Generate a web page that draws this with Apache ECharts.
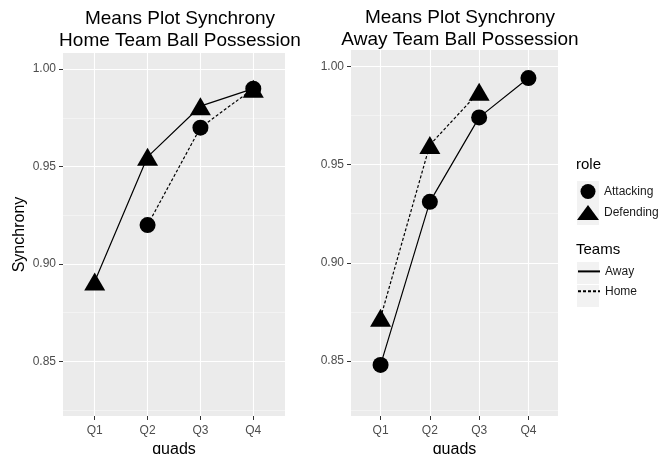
<!DOCTYPE html>
<html>
<head>
<meta charset="utf-8">
<script src="https://cdn.jsdelivr.net/npm/echarts@6/dist/echarts.min.js"></script>
<style>
    html, body {margin: 0; padding: 0; background: #fff;}
    #chart {width: 667px; height: 454px;}
</style>
</head>
<body>
<div id="chart"></div>
<script>
// quads on the x axis
const quads = ['Q1', 'Q2', 'Q3', 'Q4'];
const xPos = [1, 2, 3, 4];
const yTicks = [0.85, 0.90, 0.95, 1.00];
const yMinor = [0.825, 0.875, 0.925, 0.975];

// Home team ball possession
const homeDefending = [0.891, 0.955, 0.981, 0.990];   // Away line
const homeAttacking = [null, 0.920, 0.970, 0.990];    // Home line

// Away team ball possession
const awayAttacking = [0.848, 0.931, 0.974, 0.994];   // Away line
const awayDefending = [0.872, 0.960, 0.987, null];    // Home line

const toPoints = (vals) => vals
    .map((v, i) => [xPos[i], v])
    .filter(p => p[1] !== null);

const chart = echarts.init(document.getElementById('chart'));

const gridStyle = {show: true, backgroundColor: '#EBEBEB', borderWidth: 0, containLabel: false, outerBoundsMode: 'none'};
const font = 'Liberation Sans';

const xAxis = (gridIndex, name) => ({
    type: 'value',
    gridIndex: gridIndex,
    min: 0.4,
    max: 4.6,
    name: name,
    nameLocation: 'middle',
    nameGap: 25,
    nameTextStyle: {fontSize: 16, color: '#000', fontFamily: font},
    axisLine: {show: false},
    axisTick: {show: true, length: 4, customValues: xPos, lineStyle: {color: '#333'}},
    axisLabel: {
        customValues: xPos, margin: 9, fontSize: 12, color: '#4D4D4D', fontFamily: font,
        formatter: v => quads[Math.round(v) - 1]
    },
    splitLine: {show: true, lineStyle: {color: '#fff', width: 1.1}}
});

const yAxis = (gridIndex, name) => ({
    type: 'value',
    gridIndex: gridIndex,
    position: 'left',
    min: 0.822,
    max: 1.0083,
    name: name,
    nameLocation: 'middle',
    nameGap: 35,
    nameRotate: 90,
    nameTextStyle: {fontSize: 16, color: '#000', fontFamily: font},
    axisLine: {show: false},
    axisTick: {show: true, length: 4, customValues: yTicks, lineStyle: {color: '#333'}},
    axisLabel: {
        customValues: yTicks, margin: 7, fontSize: 12, color: '#4D4D4D', fontFamily: font,
        formatter: v => v.toFixed(2)
    },
    splitLine: {show: true, lineStyle: {color: '#fff', width: 1.1}}
});

const yMinorAxis = (gridIndex) => ({
    type: 'value',
    gridIndex: gridIndex,
    position: 'left',
    min: 0.822,
    max: 1.0083,
    axisLine: {show: false},
    axisTick: {show: false, customValues: yMinor},
    axisLabel: {show: false, customValues: yMinor},
    splitLine: {show: true, lineStyle: {color: '#F6F6F6', width: 0.7}}
});

const lineSeries = (name, vals, xi, yi, dashed) => ({
    name: name,
    type: 'line',
    xAxisIndex: xi,
    yAxisIndex: yi,
    data: toPoints(vals),
    symbol: 'none',
    z: 3,
    color: '#000',
    lineStyle: {color: '#000', width: 1.2, type: dashed ? [3, 2] : 'solid'}
});

const pointSeries = (name, vals, xi, yi) => ({
    name: name,
    type: 'scatter',
    xAxisIndex: xi,
    yAxisIndex: yi,
    data: toPoints(vals),
    symbol: name === 'Attacking' ? 'circle' : 'triangle',
    symbolSize: name === 'Attacking' ? 16 : [21, 18],
    z: 4,
    itemStyle: {color: '#000', opacity: 1}
});

const hiddenSymbol = {color: 'transparent', borderColor: 'transparent', opacity: 0};
const titleText = {fontSize: 19, fontWeight: 'normal', color: '#000', lineHeight: 22, fontFamily: font};
const keyBox = {fill: '#F2F2F2'};

const option = {
    animation: false,
    backgroundColor: '#fff',
    textStyle: {fontFamily: font},
    title: [
        {text: 'Means Plot Synchrony\nHome Team Ball Possession', left: 175, top: 3, textAlign: 'center', textStyle: titleText},
        {text: 'Means Plot Synchrony\nAway Team Ball Possession', left: 455, top: 2, textAlign: 'center', textStyle: titleText},
        {text: 'role', left: 576, top: 157, padding: 0, textStyle: {fontSize: 15, fontWeight: 'normal', color: '#000', fontFamily: font}},
        {text: 'Teams', left: 576, top: 242, padding: 0, textStyle: {fontSize: 15, fontWeight: 'normal', color: '#000', fontFamily: font}}
    ],
    graphic: [
        {type: 'rect', z: -1, shape: {x: 577, y: 181, width: 22, height: 22}, style: keyBox},
        {type: 'rect', z: -1, shape: {x: 577, y: 203, width: 22, height: 22}, style: keyBox},
        {type: 'rect', z: -1, shape: {x: 577, y: 262, width: 22, height: 22}, style: keyBox},
        {type: 'rect', z: -1, shape: {x: 577, y: 285, width: 22, height: 22}, style: keyBox}
    ],
    legend: [
        {
            data: [{name: 'Attacking', icon: 'circle'}, {name: 'Defending', icon: 'triangle'}],
            orient: 'vertical', left: 577, top: 184, itemWidth: 22, itemHeight: 15, itemGap: 6,
            textStyle: {fontSize: 12, color: '#1a1a1a', fontFamily: font}, padding: 0
        },
        {
            data: [{name: 'Away', itemStyle: hiddenSymbol}, {name: 'Home', itemStyle: hiddenSymbol}],
            orient: 'vertical', left: 577, top: 265, itemWidth: 22, itemHeight: 16, itemGap: 7,
            textStyle: {fontSize: 12, color: '#1a1a1a', fontFamily: font}, padding: 0
        }
    ],
    grid: [
        Object.assign({left: 63, top: 53, width: 222, height: 363}, gridStyle),
        Object.assign({left: 351, top: 50, width: 207, height: 366}, gridStyle)
    ],
    xAxis: [xAxis(0, 'quads'), xAxis(1, 'quads')],
    yAxis: [yMinorAxis(0), yAxis(0, 'Synchrony'), yMinorAxis(1), yAxis(1, '')],
    series: [
        lineSeries('Away', homeDefending, 0, 1, false),
        lineSeries('Home', homeAttacking, 0, 1, true),
        pointSeries('Attacking', homeAttacking, 0, 1),
        pointSeries('Defending', homeDefending, 0, 1),
        lineSeries('Away', awayAttacking, 1, 3, false),
        lineSeries('Home', awayDefending, 1, 3, true),
        pointSeries('Attacking', awayAttacking, 1, 3),
        pointSeries('Defending', awayDefending, 1, 3)
    ]
};

chart.setOption(option);
</script>
</body>
</html>
